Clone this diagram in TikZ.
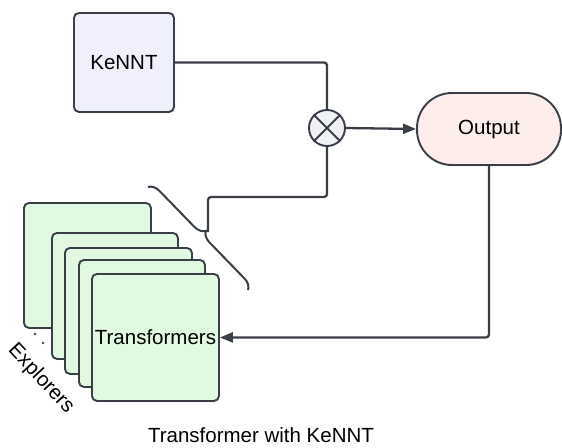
\documentclass[tikz,border=0pt]{standalone}
\usepackage{fontspec}
\setmainfont{Liberation Sans}
\usetikzlibrary{arrows.meta,decorations.pathreplacing,shadows,calc}
\definecolor{ln}{HTML}{3A3F47}
\definecolor{kfill}{HTML}{F0F0FD}
\definecolor{gfill}{HTML}{E1F8E1}
\definecolor{ofill}{HTML}{FDEDEB}
\definecolor{cfill}{HTML}{F0F1F4}
\tikzset{
  box/.style={draw=ln, line width=1.9pt, rounded corners=5pt, anchor=north west, inner sep=0pt,
    drop shadow={opacity=0.12, shadow xshift=1.2pt, shadow yshift=-1.5pt}},
  gbox/.style={box, fill=gfill},
  conn/.style={draw=ln, line width=2.3pt, rounded corners=3pt},
  arr/.style={conn, -{Triangle[length=13pt,width=10pt]}},
  txt/.style={font=\fontsize{20.5pt}{24pt}\selectfont, text=black}
}
\begin{document}
\begin{tikzpicture}[x=1pt,y=-1pt]
\useasboundingbox (0,0) rectangle (562,447);
% KeNNT
\node[box, fill=kfill, minimum width=100pt, minimum height=99pt] (kennt) at (73,12) {};
\node[txt] (kt) at (kennt.center) {KeNNT};
% multiplication circle
\node[draw=ln, line width=1.9pt, fill=cfill, circle, minimum size=36pt, inner sep=0pt] (mul) at (327,128) {};
\draw[ln, line width=1.9pt] (mul.north east) -- (mul.south west) (mul.north west) -- (mul.south east);
% Output
\node[draw=ln, line width=1.9pt, fill=ofill, rounded corners=35pt, minimum width=144pt, minimum height=72pt,
  drop shadow={opacity=0.12, shadow xshift=1.2pt, shadow yshift=-1.5pt}] (out) at (489,129) {};
\node[txt] (ot) at (out.center) {Output};
% stacked boxes
\node[gbox, minimum width=127pt, minimum height=125pt] (s1) at (23,202) {};
\node[gbox, minimum width=126pt, minimum height=126pt] (s2) at (51,232) {};
\node[gbox, minimum width=127pt, minimum height=126pt] (s3) at (64,247) {};
\node[gbox, minimum width=126pt, minimum height=127pt] (s4) at (78,259) {};
\node[gbox, minimum width=127pt, minimum height=127pt] (trans) at (91,273) {};
\node[txt] (tt) at (trans.center) {Transformers};
% dots and label
\fill[ln] (35,334) circle (1.4pt) coordinate (d1);
\fill[ln] (43,343) circle (1.4pt) coordinate (d2);
\node[txt, rotate=-47, inner sep=0pt] (expl) at (41,379) {Explorers};
% brace
\coordinate (b1) at (148,187);
\coordinate (b2) at (248,290);
\draw[ln, line width=2pt, decorate, decoration={brace, amplitude=11pt}] (b1) -- (b2);
\coordinate (bt) at (208,232);
\coordinate (j) at (208,197);
% connectors
\draw[conn] (kennt.east) -| (mul.north);
\draw[conn] (mul.south) |- (j) -- (bt);
\draw[arr] (mul.east) -- (out.west);
\draw[arr] (out.south) |- (trans.east);
% caption
\node[txt, inner sep=0pt] (cap) at (261,435) {Transformer with KeNNT};
\end{tikzpicture}
\end{document}
